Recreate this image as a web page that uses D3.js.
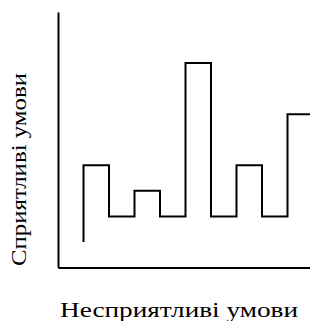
<!DOCTYPE html>
<html>
<head>
<meta charset="utf-8">
<script src="https://cdn.jsdelivr.net/npm/d3@7"></script>
<style>
  body { margin: 0; background: #fff; }
</style>
</head>
<body>
<svg id="chart" width="310" height="321"></svg>
<script>
// step positions and levels
var steps = [1, 2, 3, 4, 5, 6, 7, 8, 9, 10];
var levels = [1, 4, 2, 3, 2, 8, 2, 4, 2, 6];
var xTitle = "Несприятливі умови";
var yTitle = "Сприятливі умови";

var svg = d3.select("svg#chart");

var x = d3.scaleLinear().domain([0, 10]).range([58, 313]);
var y = d3.scaleLinear().domain([0, 10]).range([267.5, 12]);

// bare axes, no ticks
svg.append("g").attr("transform", "translate(" + x(0) + ",0)")
   .call(d3.axisLeft(y).tickValues([]).tickSizeOuter(0))
   .select(".domain").attr("stroke", "#000").attr("stroke-width", 2);
svg.append("g").attr("transform", "translate(0," + y(0) + ")")
   .call(d3.axisBottom(x).tickValues([]).tickSizeOuter(0))
   .select(".domain").attr("stroke", "#000").attr("stroke-width", 2);

var pts = steps.map((s, i) => [s, levels[i]]);
var line = d3.line()
    .x(d => x(d[0]))
    .y(d => y(d[1]))
    .curve(d3.curveStepBefore);

svg.append("path").datum(pts)
   .attr("d", line)
   .attr("fill", "none")
   .attr("stroke", "#000")
   .attr("stroke-width", 2);

// serif only comes out at 20px here, so stretch the run with textLength
svg.append("text")
   .attr("x", 60).attr("y", 316.5)
   .attr("font-family", "Liberation Serif")
   .attr("font-size", 20)
   .attr("textLength", 238)
   .attr("lengthAdjust", "spacingAndGlyphs")
   .text(xTitle);

svg.append("text")
   .attr("transform", "translate(26,266) rotate(-90)")
   .attr("font-family", "Liberation Serif")
   .attr("font-size", 20)
   .attr("textLength", 193)
   .attr("lengthAdjust", "spacingAndGlyphs")
   .text(yTitle);
</script>
</body>
</html>
